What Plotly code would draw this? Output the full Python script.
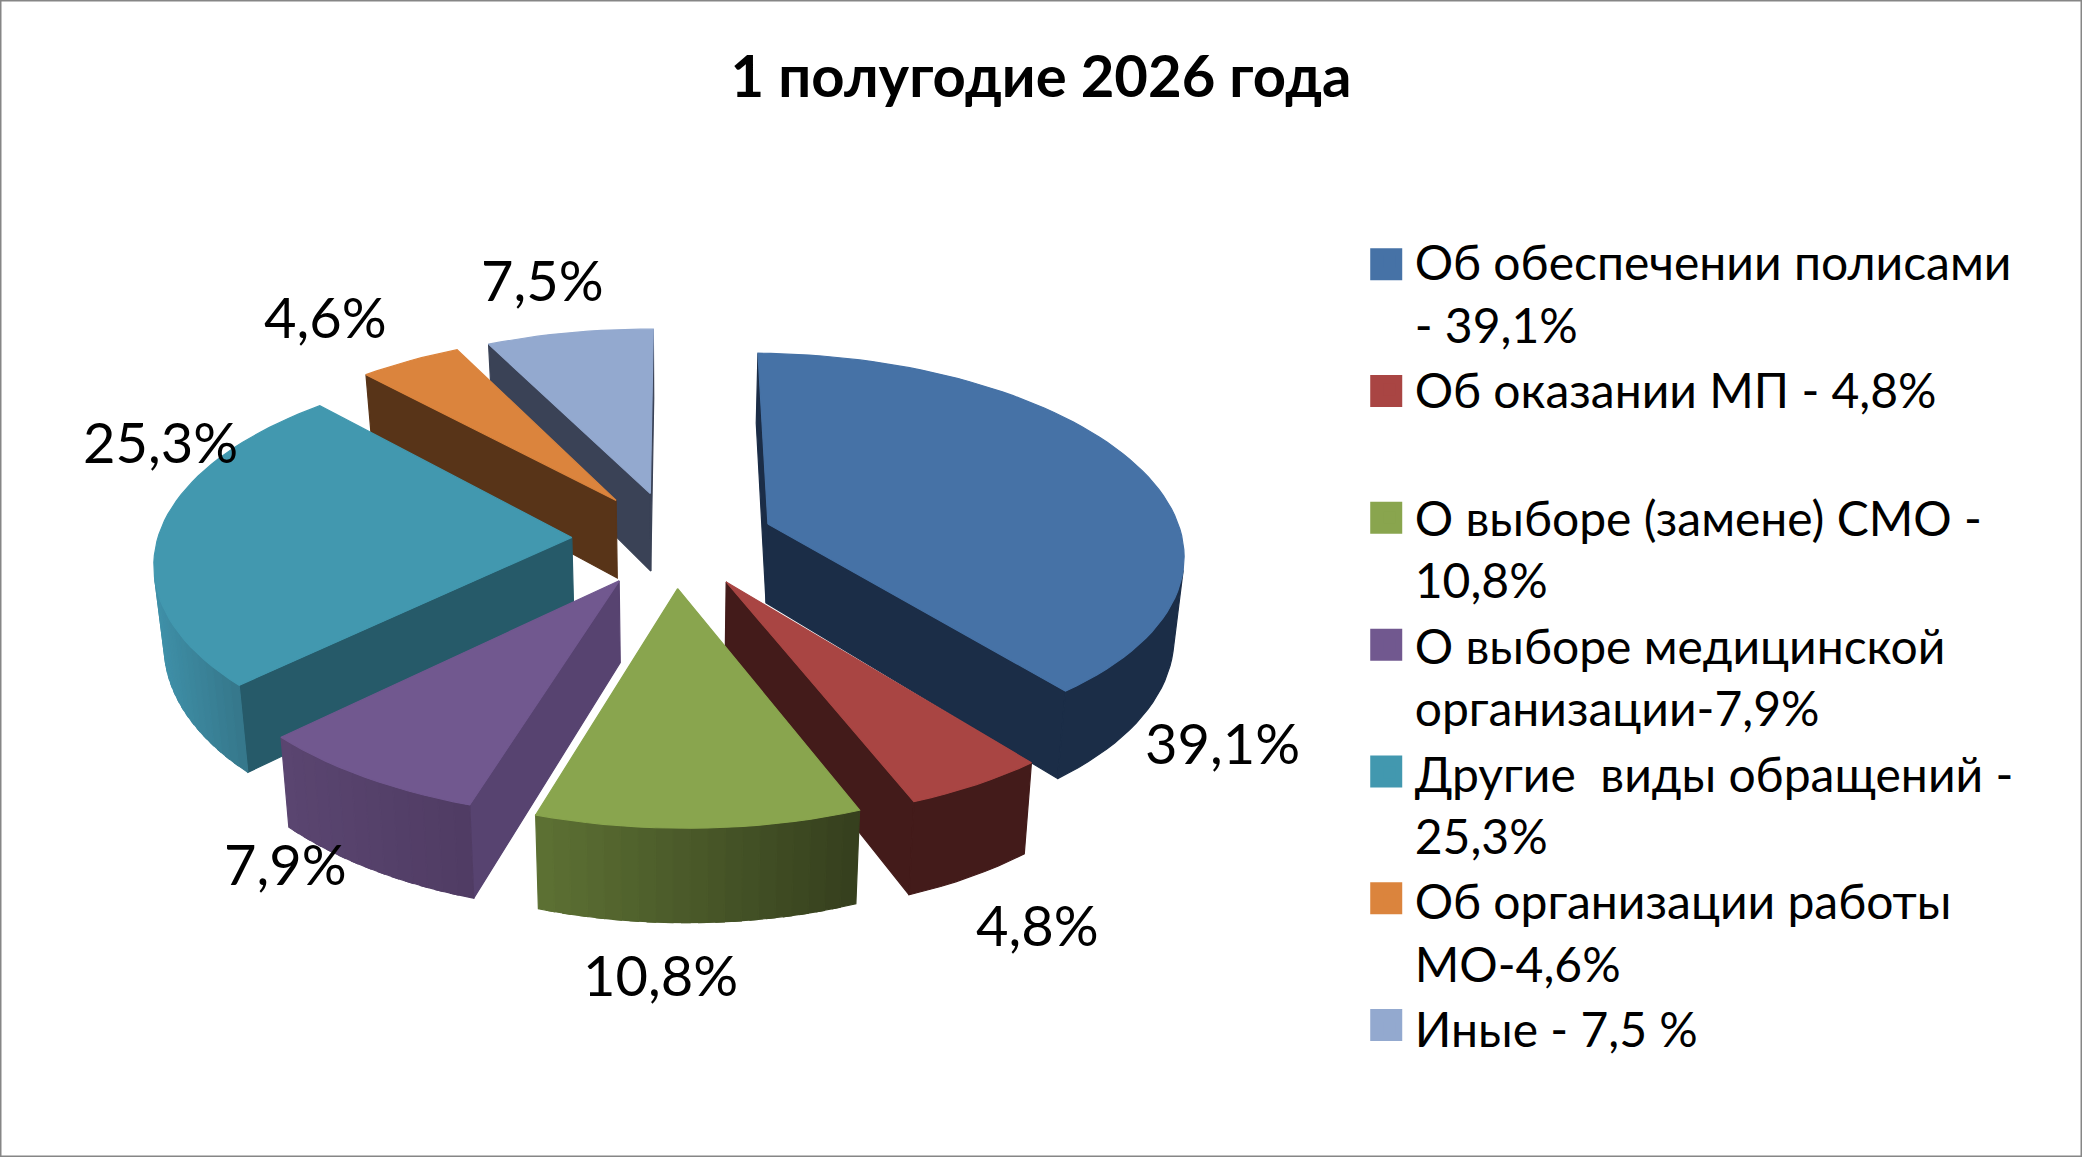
import math
import plotly.graph_objects as go

title = "1 полугодие 2026 года"
categories = [
    "Об обеспечении полисами<br>- 39,1%",
    "Об оказании МП - 4,8%<br> ",
    "О выборе (замене) СМО -<br>10,8%",
    "О выборе медицинской<br>организации-7,9%",
    "Другие  виды обращений -<br>25,3%",
    "Об организации работы<br>МО-4,6%",
    "Иные - 7,5 %",
]
values = [39.1, 4.8, 10.8, 7.9, 25.3, 4.6, 7.5]

top_colors = ["#4672A6", "#A94543", "#89A54E", "#71588F", "#4298AF", "#DB843D", "#93A9CF"]
wall_colors = ["#1B2D47", "#431B1A", "#3F4D22", "#574370", "#265A69", "#583418", "#3A4256"]
rim_left = ["#1B2D47", "#431B1A", "#5C7033", "#5A4570", "#3F90A8", "#583418", "#3A4256"]
rim_right = ["#1B2D47", "#431B1A", "#36401E", "#503C64", "#36788C", "#583418", "#3A4256"]
draw_order = [6, 5, 4, 3, 0, 1, 2]

# projection of the tilted pie, in page pixels
S = 2082 / 1568
CX, CY = 507 * S, 406 * S
RX, RY = 312 * S, 147.5 * S
PERSP = 0.126
SHEAR = 5 * S
DEPTH = 60 * S
LOW_X = 0.98
EXPLODE = 0.245
START = 1.0

# label centres in page pixels
label_xy = [(1222, 742), (1037, 924), (660, 974), (285, 863), (160, 441), (325, 316), (542, 279)]

# legend swatches, in page pixels
SWATCH_X, SWATCH_Y0, SWATCH_STEP, SWATCH_SIZE = 1044 * S, 199 * S, 95.5 * S, 32


def proj(x, y, low=False):
    s = 1 / (1 - PERSP * y)
    px = (RX * x + SHEAR * y) * s
    if low:
        return CX + px * LOW_X, CY + RY * y * s + DEPTH * s
    return CX + px, CY + RY * y * s


def area(p):
    return sum(p[i][0] * p[(i + 1) % len(p)][1] - p[(i + 1) % len(p)][0] * p[i][1] for i in range(len(p))) / 2


def hex_mix(a, b, t):
    ca = [int(a[i:i + 2], 16) for i in (1, 3, 5)]
    cb = [int(b[i:i + 2], 16) for i in (1, 3, 5)]
    return "#%02x%02x%02x" % tuple(round(u + (v - u) * t) for u, v in zip(ca, cb))


def poly(points, color):
    xs = [p[0] for p in points] + [points[0][0]]
    ys = [p[1] for p in points] + [points[0][1]]
    return go.Scatter(x=xs, y=ys, mode="lines", fill="toself", fillcolor=color,
                      line=dict(color=color, width=1.2), hoverinfo="skip", showlegend=False)


total = sum(values)
bounds = []
acc = 0.0
for v in values:
    bounds.append((START + acc / total * 360, START + (acc + v) / total * 360))
    acc += v

fig = go.Figure()

for i in draw_order:
    a0, a1 = bounds[i]
    mid = math.radians((a0 + a1) / 2)
    ox, oy = EXPLODE * math.sin(mid), -EXPLODE * math.cos(mid)

    def pt(deg, r=1.0):
        t = math.radians(deg)
        return ox + r * math.sin(t), oy - r * math.cos(t)

    steps = max(4, int((a1 - a0) / 2))
    step = (a1 - a0) / steps
    angs = [a0 + step * k for k in range(steps + 1)]
    apex = (ox, oy)
    o0, o1 = pt(a0), pt(a1)
    walls = [
        [proj(*apex), proj(*o0), proj(*o0, True), proj(*apex, True)],
        [proj(*o1), proj(*apex), proj(*apex, True), proj(*o1, True)],
    ]
    for w in walls:
        if area(w) < 0:
            fig.add_trace(poly(w, wall_colors[i]))
    vis = []
    for k in range(steps):
        p, q = pt(angs[k]), pt(angs[k + 1])
        if area([proj(*p), proj(*q), proj(*q, True), proj(*p, True)]) < 0:
            vis.append(k)
    if vis:
        if rim_left[i] == rim_right[i]:
            arc = [pt(angs[k]) for k in vis] + [pt(angs[vis[-1] + 1])]
            fig.add_trace(poly([proj(*a) for a in arc] + [proj(*a, True) for a in reversed(arc)], rim_left[i]))
        else:
            xs = [proj(*pt(angs[k]))[0] for k in vis]
            for k, x in zip(vis, xs):
                t = (x - min(xs)) / (max(xs) - min(xs)) if max(xs) > min(xs) else 0.5
                p, q = pt(angs[k]), pt(min(angs[k + 1] + step * 0.5, angs[vis[-1] + 1]))
                fig.add_trace(poly([proj(*p), proj(*q), proj(*q, True), proj(*p, True)],
                                   hex_mix(rim_left[i], rim_right[i], t)))
    fig.add_trace(poly([proj(*apex)] + [proj(*pt(a)) for a in angs], top_colors[i]))

for name, color in zip(categories, top_colors):
    fig.add_trace(go.Scatter(x=[None], y=[None], mode="markers", name=name,
                             marker=dict(symbol="square", size=16, color=color)))

for v, (lx, ly) in zip(values, label_xy):
    fig.add_annotation(x=lx, y=ly, text=f"{v}".replace(".", ",") + "%", showarrow=False,
                       font=dict(family="Lato, Carlito, Open Sans", size=56, color="black"))

shapes = [dict(type="rect", xref="paper", yref="paper", x0=0, y0=0, x1=1, y1=1,
               line=dict(color="#868686", width=3), fillcolor="rgba(0,0,0,0)")]
for k, color in enumerate(top_colors):
    yc = SWATCH_Y0 + k * SWATCH_STEP
    shapes.append(dict(type="rect", xref="x", yref="y",
                       x0=SWATCH_X - SWATCH_SIZE / 2, x1=SWATCH_X + SWATCH_SIZE / 2,
                       y0=yc - SWATCH_SIZE / 2, y1=yc + SWATCH_SIZE / 2,
                       fillcolor=color, line=dict(width=0), layer="above"))

fig.update_layout(
    width=2082, height=1157, margin=dict(l=0, r=0, t=0, b=0),
    paper_bgcolor="white", plot_bgcolor="white",
    xaxis=dict(range=[0, 2082], visible=False, fixedrange=True),
    yaxis=dict(range=[1157, 0], visible=False, fixedrange=True),
    title=dict(text=f"<b>{title}</b>", x=0.5, xanchor="center", y=0.934, yanchor="middle",
               font=dict(family="Lato, Carlito, Open Sans", size=58, color="black")),
    legend=dict(x=0.6555, y=0.8065, xanchor="left", yanchor="top", itemsizing="constant",
                itemwidth=40, bgcolor="rgba(0,0,0,0)", tracegroupgap=0, valign="top",
                font=dict(family="Lato, Carlito, Open Sans", size=48, color="black")),
    shapes=shapes,
)
fig.write_html("out.html", config=dict(displayModeBar=False),
               post_script="document.body.style.margin='0';")
